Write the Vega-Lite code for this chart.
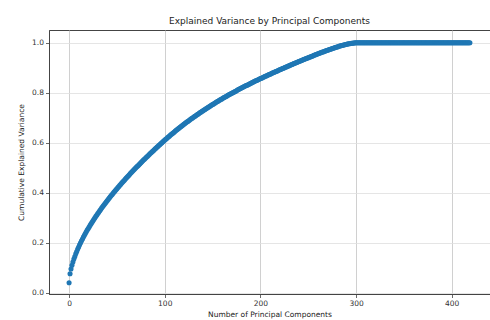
{
  "$schema": "https://vega.github.io/schema/vega-lite/v6.json",
  "autosize": "none",
  "width": 441,
  "height": 264,
  "padding": {"left": 49, "top": 30, "right": 0, "bottom": 26},
  "background": "white",
  "title": {"text": "Explained Variance by Principal Components", "font": "DejaVu Sans", "fontSize": 9, "fontWeight": "normal", "color": "#222222", "anchor": "middle", "offset": 4},
  "data": {"values": [
{"n":0,"v":0.040},{"n":1,"v":0.076},{"n":2,"v":0.095},{"n":3,"v":0.110},{"n":4,"v":0.123},{"n":5,"v":0.135},{"n":6,"v":0.145},{"n":7,"v":0.156},{"n":8,"v":0.165},{"n":9,"v":0.175},
{"n":10,"v":0.183},{"n":11,"v":0.192},{"n":12,"v":0.200},{"n":13,"v":0.208},{"n":14,"v":0.215},{"n":15,"v":0.223},{"n":16,"v":0.230},{"n":17,"v":0.237},{"n":18,"v":0.244},{"n":19,"v":0.251},
{"n":20,"v":0.257},{"n":21,"v":0.263},{"n":22,"v":0.270},{"n":23,"v":0.276},{"n":24,"v":0.282},{"n":25,"v":0.288},{"n":26,"v":0.294},{"n":27,"v":0.300},{"n":28,"v":0.306},{"n":29,"v":0.311},
{"n":30,"v":0.317},{"n":31,"v":0.322},{"n":32,"v":0.328},{"n":33,"v":0.333},{"n":34,"v":0.339},{"n":35,"v":0.344},{"n":36,"v":0.349},{"n":37,"v":0.354},{"n":38,"v":0.359},{"n":39,"v":0.364},
{"n":40,"v":0.369},{"n":41,"v":0.374},{"n":42,"v":0.379},{"n":43,"v":0.384},{"n":44,"v":0.389},{"n":45,"v":0.393},{"n":46,"v":0.398},{"n":47,"v":0.403},{"n":48,"v":0.407},{"n":49,"v":0.412},
{"n":50,"v":0.416},{"n":51,"v":0.421},{"n":52,"v":0.425},{"n":53,"v":0.430},{"n":54,"v":0.434},{"n":55,"v":0.439},{"n":56,"v":0.443},{"n":57,"v":0.447},{"n":58,"v":0.451},{"n":59,"v":0.456},
{"n":60,"v":0.460},{"n":61,"v":0.464},{"n":62,"v":0.468},{"n":63,"v":0.472},{"n":64,"v":0.477},{"n":65,"v":0.481},{"n":66,"v":0.485},{"n":67,"v":0.489},{"n":68,"v":0.493},{"n":69,"v":0.497},
{"n":70,"v":0.501},{"n":71,"v":0.505},{"n":72,"v":0.508},{"n":73,"v":0.512},{"n":74,"v":0.516},{"n":75,"v":0.520},{"n":76,"v":0.524},{"n":77,"v":0.528},{"n":78,"v":0.532},{"n":79,"v":0.535},
{"n":80,"v":0.539},{"n":81,"v":0.543},{"n":82,"v":0.546},{"n":83,"v":0.550},{"n":84,"v":0.554},{"n":85,"v":0.558},{"n":86,"v":0.561},{"n":87,"v":0.565},{"n":88,"v":0.568},{"n":89,"v":0.572},
{"n":90,"v":0.576},{"n":91,"v":0.579},{"n":92,"v":0.583},{"n":93,"v":0.586},{"n":94,"v":0.590},{"n":95,"v":0.593},{"n":96,"v":0.597},{"n":97,"v":0.600},{"n":98,"v":0.604},{"n":99,"v":0.607},
{"n":100,"v":0.611},{"n":101,"v":0.614},{"n":102,"v":0.617},{"n":103,"v":0.621},{"n":104,"v":0.624},{"n":105,"v":0.627},{"n":106,"v":0.631},{"n":107,"v":0.634},{"n":108,"v":0.637},{"n":109,"v":0.640},
{"n":110,"v":0.643},{"n":111,"v":0.647},{"n":112,"v":0.650},{"n":113,"v":0.653},{"n":114,"v":0.656},{"n":115,"v":0.659},{"n":116,"v":0.662},{"n":117,"v":0.665},{"n":118,"v":0.668},{"n":119,"v":0.671},
{"n":120,"v":0.674},{"n":121,"v":0.677},{"n":122,"v":0.680},{"n":123,"v":0.683},{"n":124,"v":0.685},{"n":125,"v":0.688},{"n":126,"v":0.691},{"n":127,"v":0.694},{"n":128,"v":0.697},{"n":129,"v":0.699},
{"n":130,"v":0.702},{"n":131,"v":0.705},{"n":132,"v":0.707},{"n":133,"v":0.710},{"n":134,"v":0.713},{"n":135,"v":0.715},{"n":136,"v":0.718},{"n":137,"v":0.721},{"n":138,"v":0.723},{"n":139,"v":0.726},
{"n":140,"v":0.728},{"n":141,"v":0.731},{"n":142,"v":0.733},{"n":143,"v":0.736},{"n":144,"v":0.738},{"n":145,"v":0.741},{"n":146,"v":0.743},{"n":147,"v":0.746},{"n":148,"v":0.748},{"n":149,"v":0.751},
{"n":150,"v":0.753},{"n":151,"v":0.755},{"n":152,"v":0.758},{"n":153,"v":0.760},{"n":154,"v":0.763},{"n":155,"v":0.765},{"n":156,"v":0.767},{"n":157,"v":0.770},{"n":158,"v":0.772},{"n":159,"v":0.774},
{"n":160,"v":0.776},{"n":161,"v":0.779},{"n":162,"v":0.781},{"n":163,"v":0.783},{"n":164,"v":0.785},{"n":165,"v":0.787},{"n":166,"v":0.790},{"n":167,"v":0.792},{"n":168,"v":0.794},{"n":169,"v":0.796},
{"n":170,"v":0.798},{"n":171,"v":0.800},{"n":172,"v":0.802},{"n":173,"v":0.804},{"n":174,"v":0.806},{"n":175,"v":0.808},{"n":176,"v":0.811},{"n":177,"v":0.813},{"n":178,"v":0.815},{"n":179,"v":0.817},
{"n":180,"v":0.819},{"n":181,"v":0.821},{"n":182,"v":0.823},{"n":183,"v":0.825},{"n":184,"v":0.827},{"n":185,"v":0.829},{"n":186,"v":0.830},{"n":187,"v":0.832},{"n":188,"v":0.834},{"n":189,"v":0.836},
{"n":190,"v":0.838},{"n":191,"v":0.840},{"n":192,"v":0.842},{"n":193,"v":0.844},{"n":194,"v":0.846},{"n":195,"v":0.848},{"n":196,"v":0.849},{"n":197,"v":0.851},{"n":198,"v":0.853},{"n":199,"v":0.855},
{"n":200,"v":0.857},{"n":201,"v":0.858},{"n":202,"v":0.860},{"n":203,"v":0.862},{"n":204,"v":0.864},{"n":205,"v":0.866},{"n":206,"v":0.867},{"n":207,"v":0.869},{"n":208,"v":0.871},{"n":209,"v":0.873},
{"n":210,"v":0.874},{"n":211,"v":0.876},{"n":212,"v":0.878},{"n":213,"v":0.880},{"n":214,"v":0.881},{"n":215,"v":0.883},{"n":216,"v":0.885},{"n":217,"v":0.886},{"n":218,"v":0.888},{"n":219,"v":0.890},
{"n":220,"v":0.892},{"n":221,"v":0.893},{"n":222,"v":0.895},{"n":223,"v":0.897},{"n":224,"v":0.898},{"n":225,"v":0.900},{"n":226,"v":0.902},{"n":227,"v":0.903},{"n":228,"v":0.905},{"n":229,"v":0.907},
{"n":230,"v":0.908},{"n":231,"v":0.910},{"n":232,"v":0.912},{"n":233,"v":0.913},{"n":234,"v":0.915},{"n":235,"v":0.917},{"n":236,"v":0.918},{"n":237,"v":0.920},{"n":238,"v":0.921},{"n":239,"v":0.923},
{"n":240,"v":0.925},{"n":241,"v":0.926},{"n":242,"v":0.928},{"n":243,"v":0.929},{"n":244,"v":0.931},{"n":245,"v":0.933},{"n":246,"v":0.934},{"n":247,"v":0.936},{"n":248,"v":0.937},{"n":249,"v":0.939},
{"n":250,"v":0.940},{"n":251,"v":0.942},{"n":252,"v":0.943},{"n":253,"v":0.945},{"n":254,"v":0.946},{"n":255,"v":0.948},{"n":256,"v":0.950},{"n":257,"v":0.951},{"n":258,"v":0.953},{"n":259,"v":0.954},
{"n":260,"v":0.956},{"n":261,"v":0.957},{"n":262,"v":0.959},{"n":263,"v":0.960},{"n":264,"v":0.962},{"n":265,"v":0.963},{"n":266,"v":0.964},{"n":267,"v":0.966},{"n":268,"v":0.967},{"n":269,"v":0.969},
{"n":270,"v":0.970},{"n":271,"v":0.971},{"n":272,"v":0.973},{"n":273,"v":0.974},{"n":274,"v":0.975},{"n":275,"v":0.977},{"n":276,"v":0.978},{"n":277,"v":0.979},{"n":278,"v":0.981},{"n":279,"v":0.982},
{"n":280,"v":0.983},{"n":281,"v":0.984},{"n":282,"v":0.986},{"n":283,"v":0.987},{"n":284,"v":0.988},{"n":285,"v":0.989},{"n":286,"v":0.990},{"n":287,"v":0.991},{"n":288,"v":0.992},{"n":289,"v":0.993},
{"n":290,"v":0.994},{"n":291,"v":0.995},{"n":292,"v":0.996},{"n":293,"v":0.996},{"n":294,"v":0.997},{"n":295,"v":0.998},{"n":296,"v":0.998},{"n":297,"v":0.999},{"n":298,"v":0.999},{"n":299,"v":1.0},
{"n":300,"v":1.0},{"n":301,"v":1.0},{"n":302,"v":1.0},{"n":303,"v":1.0},{"n":304,"v":1.0},{"n":305,"v":1.0},{"n":306,"v":1.0},{"n":307,"v":1.0},{"n":308,"v":1.0},{"n":309,"v":1.0},
{"n":310,"v":1.0},{"n":311,"v":1.0},{"n":312,"v":1.0},{"n":313,"v":1.0},{"n":314,"v":1.0},{"n":315,"v":1.0},{"n":316,"v":1.0},{"n":317,"v":1.0},{"n":318,"v":1.0},{"n":319,"v":1.0},
{"n":320,"v":1.0},{"n":321,"v":1.0},{"n":322,"v":1.0},{"n":323,"v":1.0},{"n":324,"v":1.0},{"n":325,"v":1.0},{"n":326,"v":1.0},{"n":327,"v":1.0},{"n":328,"v":1.0},{"n":329,"v":1.0},
{"n":330,"v":1.0},{"n":331,"v":1.0},{"n":332,"v":1.0},{"n":333,"v":1.0},{"n":334,"v":1.0},{"n":335,"v":1.0},{"n":336,"v":1.0},{"n":337,"v":1.0},{"n":338,"v":1.0},{"n":339,"v":1.0},
{"n":340,"v":1.0},{"n":341,"v":1.0},{"n":342,"v":1.0},{"n":343,"v":1.0},{"n":344,"v":1.0},{"n":345,"v":1.0},{"n":346,"v":1.0},{"n":347,"v":1.0},{"n":348,"v":1.0},{"n":349,"v":1.0},
{"n":350,"v":1.0},{"n":351,"v":1.0},{"n":352,"v":1.0},{"n":353,"v":1.0},{"n":354,"v":1.0},{"n":355,"v":1.0},{"n":356,"v":1.0},{"n":357,"v":1.0},{"n":358,"v":1.0},{"n":359,"v":1.0},
{"n":360,"v":1.0},{"n":361,"v":1.0},{"n":362,"v":1.0},{"n":363,"v":1.0},{"n":364,"v":1.0},{"n":365,"v":1.0},{"n":366,"v":1.0},{"n":367,"v":1.0},{"n":368,"v":1.0},{"n":369,"v":1.0},
{"n":370,"v":1.0},{"n":371,"v":1.0},{"n":372,"v":1.0},{"n":373,"v":1.0},{"n":374,"v":1.0},{"n":375,"v":1.0},{"n":376,"v":1.0},{"n":377,"v":1.0},{"n":378,"v":1.0},{"n":379,"v":1.0},
{"n":380,"v":1.0},{"n":381,"v":1.0},{"n":382,"v":1.0},{"n":383,"v":1.0},{"n":384,"v":1.0},{"n":385,"v":1.0},{"n":386,"v":1.0},{"n":387,"v":1.0},{"n":388,"v":1.0},{"n":389,"v":1.0},
{"n":390,"v":1.0},{"n":391,"v":1.0},{"n":392,"v":1.0},{"n":393,"v":1.0},{"n":394,"v":1.0},{"n":395,"v":1.0},{"n":396,"v":1.0},{"n":397,"v":1.0},{"n":398,"v":1.0},{"n":399,"v":1.0},
{"n":400,"v":1.0},{"n":401,"v":1.0},{"n":402,"v":1.0},{"n":403,"v":1.0},{"n":404,"v":1.0},{"n":405,"v":1.0},{"n":406,"v":1.0},{"n":407,"v":1.0},{"n":408,"v":1.0},{"n":409,"v":1.0},
{"n":410,"v":1.0},{"n":411,"v":1.0},{"n":412,"v":1.0},{"n":413,"v":1.0},{"n":414,"v":1.0},{"n":415,"v":1.0},{"n":416,"v":1.0},{"n":417,"v":1.0},{"n":418,"v":1.0},{"n":419,"v":1.0}
  ]},
  "mark": {"type": "circle", "color": "#1f77b4", "size": 26, "opacity": 1, "clip": false},
  "encoding": {
    "x": {"field": "n", "type": "quantitative",
      "scale": {"domain": [-21, 440], "nice": false, "zero": false},
      "axis": {"title": "Number of Principal Components", "values": [0, 100, 200, 300, 400], "format": "d",
        "gridColor": "#c4c4c4", "gridWidth": 0.8, "tickColor": "#444444", "tickSize": 3.5, "tickWidth": 0.8,
        "domainColor": "#444444", "domainWidth": 1,
        "labelFont": "DejaVu Sans", "labelFontSize": 7.5, "labelColor": "#333333", "labelPadding": 2,
        "titleFont": "DejaVu Sans", "titleFontSize": 7.5, "titleFontWeight": "normal", "titleColor": "#222222", "titlePadding": 3}},
    "y": {"field": "v", "type": "quantitative",
      "scale": {"domain": [-0.005, 1.051], "nice": false, "zero": false},
      "axis": {"title": "Cumulative Explained Variance", "values": [0, 0.2, 0.4, 0.6, 0.8, 1.0], "format": ".1f",
        "gridColor": "#dedede", "gridWidth": 0.8, "tickColor": "#444444", "tickSize": 3.5, "tickWidth": 0.8,
        "domainColor": "#444444", "domainWidth": 1,
        "labelFont": "DejaVu Sans", "labelFontSize": 7.5, "labelColor": "#333333", "labelPadding": 2,
        "titleFont": "DejaVu Sans", "titleFontSize": 7.5, "titleFontWeight": "normal", "titleColor": "#222222", "titlePadding": 6}}
  },
  "config": {"view": {"stroke": "#444444", "strokeWidth": 1}}
}
